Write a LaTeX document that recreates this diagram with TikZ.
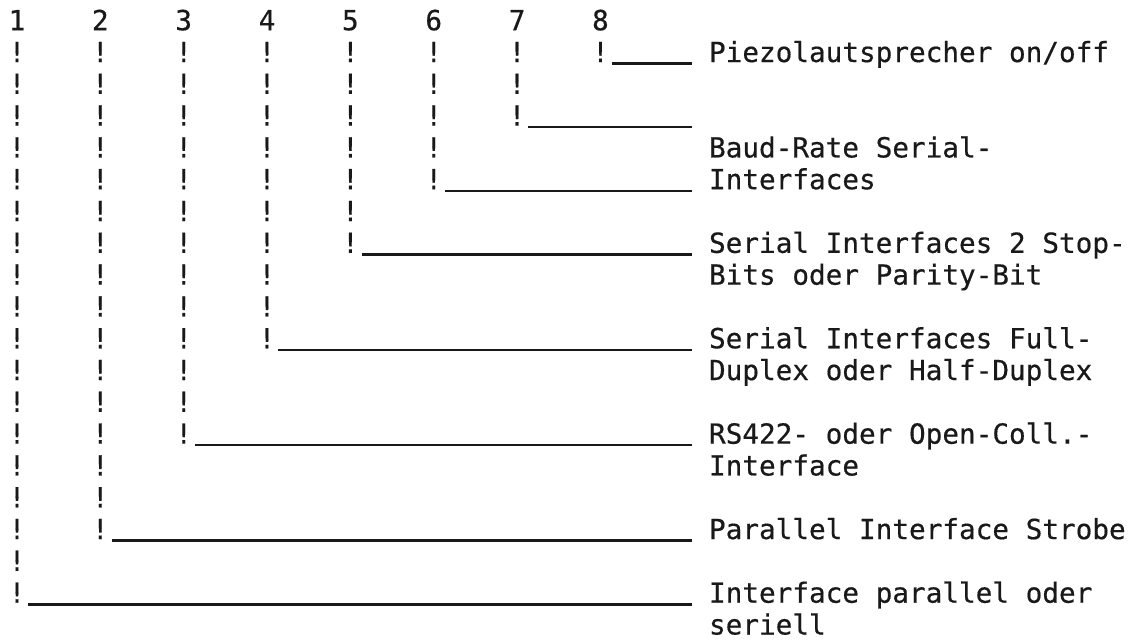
\documentclass[tikz,border=0pt]{standalone}
\usepackage{fontspec}
\newfontfamily\printfont[BoldFont={DejaVu Sans Mono},BoldFeatures={FakeBold=0.5}]{DejaVu Sans Mono}
\usetikzlibrary{positioning}

\begin{document}
\begin{tikzpicture}[x=12.5pt,y=-23.85pt,
    every node/.style={font={\printfont\bfseries\fontsize{20.76pt}{23.85pt}\selectfont},
        inner sep=0pt, text=black!90},
    bang/.style={anchor=base},
    bitnum/.style={anchor=base},
    uline/.style={line width=1.8pt, black!90},
    lbl/.style={anchor=base west, align=left}]
    \useasboundingbox (-1.02,-0.95) rectangle (67.19,19.176);
    \coordinate (endx) at (40.5,0);

    % Bits 1..8: Spalte aus ! bis zur Zeile der Linie
    \foreach \k/\r in {1/18,2/16,3/13,4/10,5/7,6/5,7/3,8/1} {
        \pgfmathtruncatemacro{\c}{5*(\k-1)}
        \node[bitnum] (n\k) at (\c,0) {\k};
        \foreach \y in {1,...,\r} {
            \node[bang] (b\k-\y) at (\c,\y) {!};
        }
        \coordinate (s\k) at ([xshift=2pt,yshift=-1.2pt]b\k-\r.base east);
        \coordinate (e\k) at (s\k -| endx);
        \draw[uline] (s\k) -- (e\k);
    }

    % Beschriftungen (bei zwei Zeilen: Grundlinie der letzten Zeile)
    \node[lbl] (lab8) at (41.5,1) {Piezolautsprecher on/off};
    \node[lbl] (lab6) at (41.5,5) {Baud-Rate Serial-\\Interfaces};
    \node[lbl] (lab5) at (41.5,8) {Serial Interfaces 2 Stop-\\Bits oder Parity-Bit};
    \node[lbl] (lab4) at (41.5,11) {Serial Interfaces Full-\\Duplex oder Half-Duplex};
    \node[lbl] (lab3) at (41.5,14) {RS422- oder Open-Coll.-\\Interface};
    \node[lbl] (lab2) at (41.5,16) {Parallel Interface Strobe};
    \node[lbl] (lab1) at (41.5,19) {Interface parallel oder\\seriell};
\end{tikzpicture}
\end{document}
